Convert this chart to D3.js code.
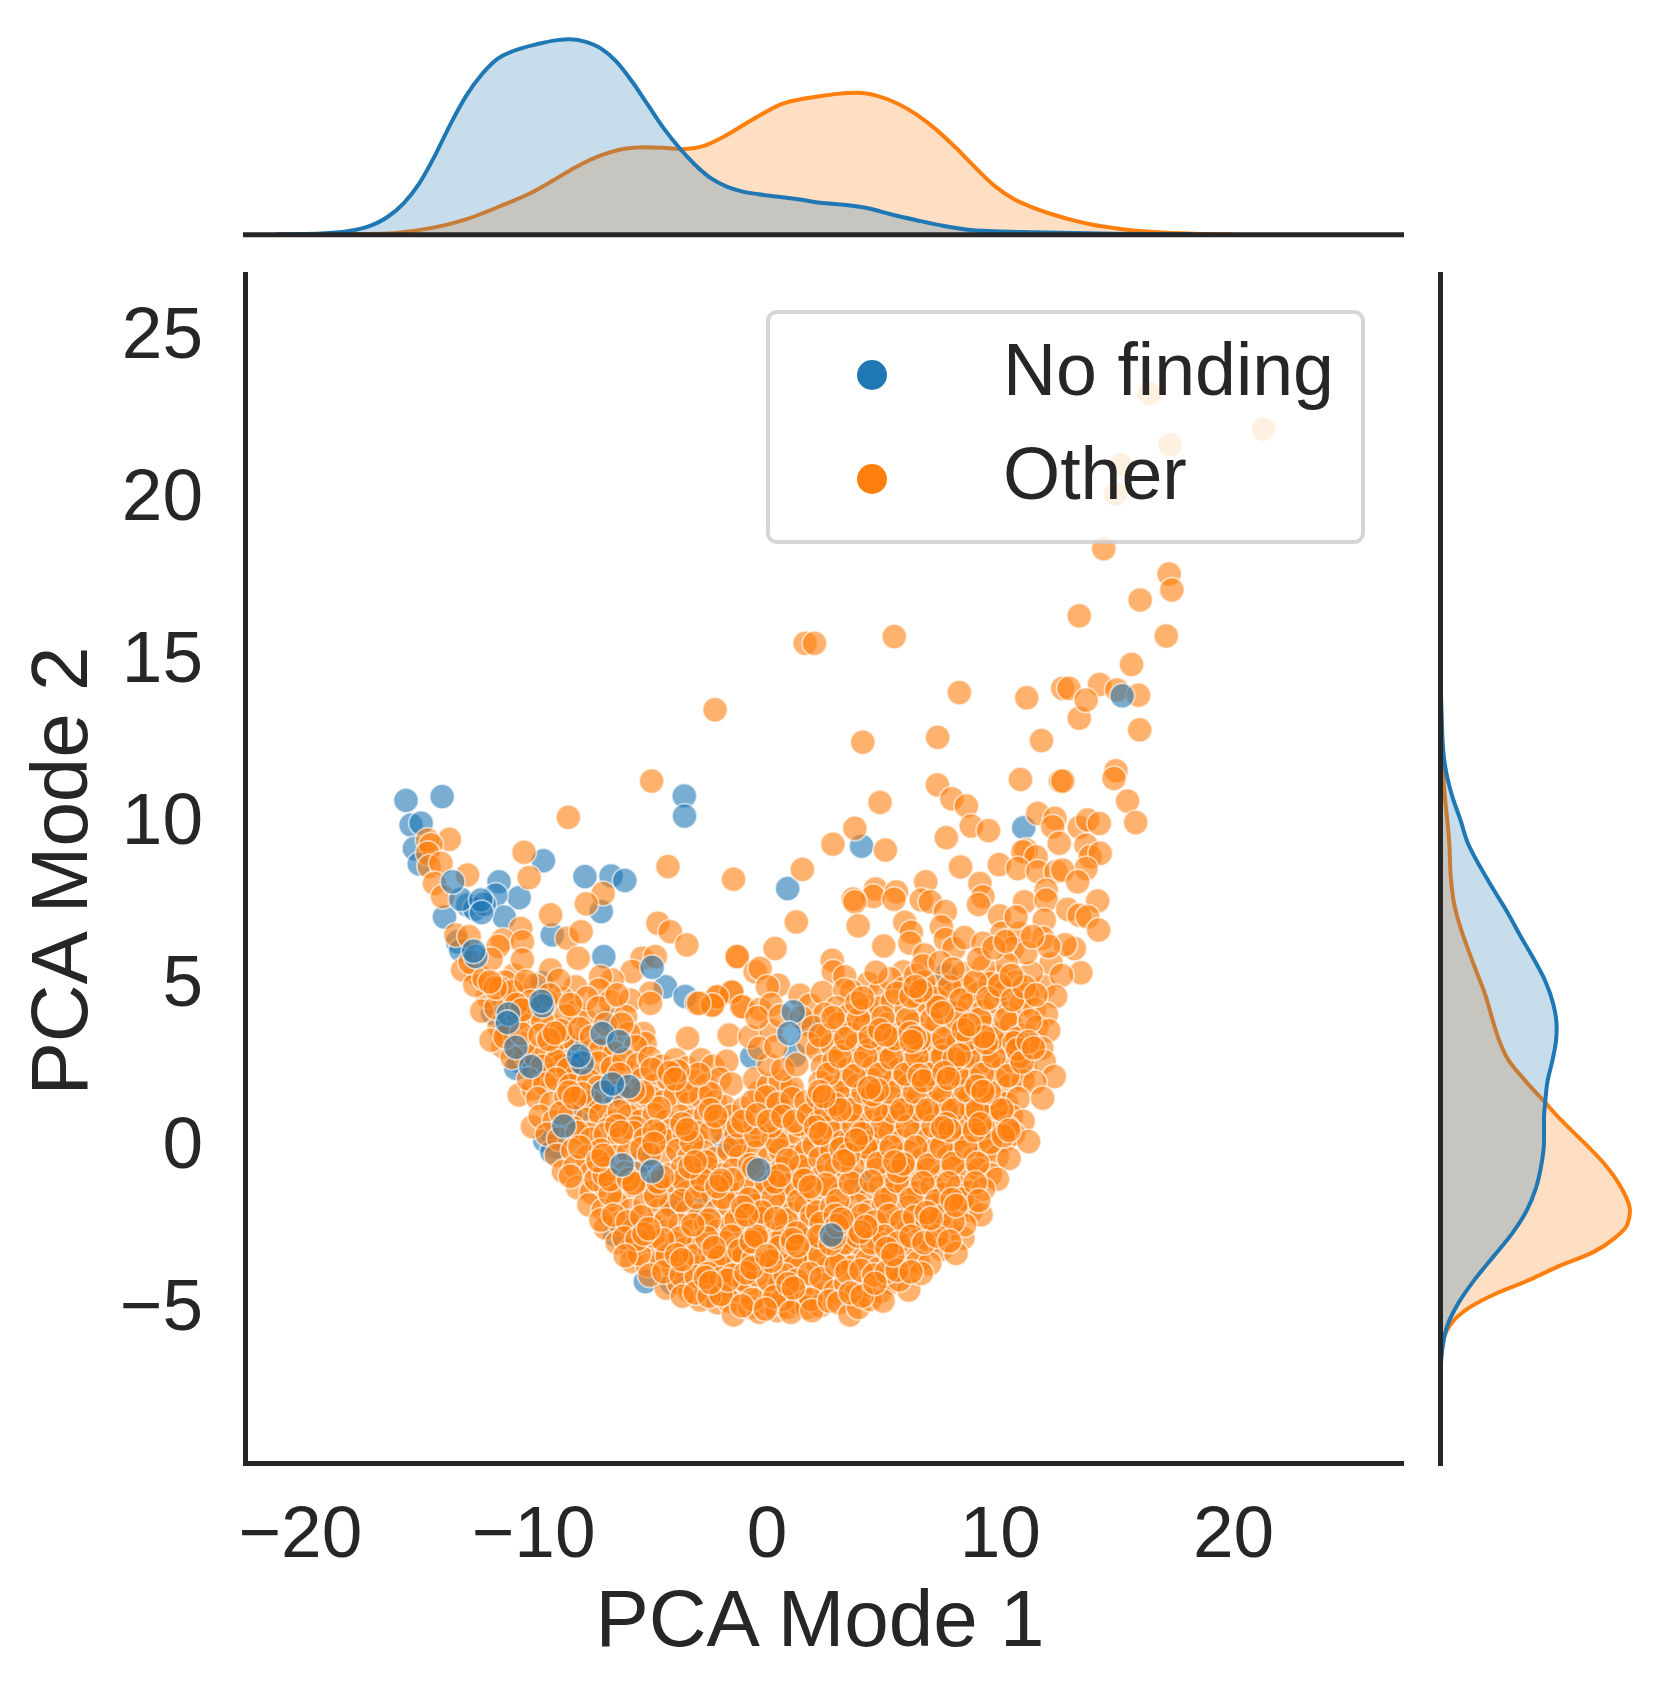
<!DOCTYPE html>
<html>
<head>
<meta charset="utf-8">
<script src="https://d3js.org/d3.v7.min.js"></script>
<style>
body { margin:0; background:#fff; }
svg { display:block; font-family:"Liberation Sans",Arial,sans-serif; }
.spine path { stroke:#262626; stroke-width:5; stroke-linecap:square; fill:none; }
.spine text { fill:#262626; font-size:73px; font-family:"Liberation Sans",Arial,sans-serif; }
.spine line { display:none; }
</style>
</head>
<body>
<div id="chart"></div>
<script>
const w = 1668;
const h = 1691;

const xTicks = [-20,-10,0,10,20];
const yTicks = [-5,0,5,10,15,20,25];
const legendNames = ["No finding","Other"];

// marginal density readings, x (or y) position and density x 1000
const topBlueX = [-21,-20,-19.1,-17.9,-17.08,-16.23,-15.55,-14.88,-14.2,-13.53,-12.85,-12.17,-11.5,-10.82,-9.81,-8.96,-8.46,-7.78,-7.1,-6.43,-5.75,-5.08,-4.4,-3.72,-3.05,-2.37,-1.7,-1.02,-.34,.67,1.52,2.21,3.06,4.41,5.25,6.44,7.62,8.63,9.82,11.5,14.9,18.3];
const topBlueD = [0,.1,.4,1.5,3.5,8.1,14.3,23.5,36.5,51.1,64.2,74.2,81.2,84.7,87.8,89.6,90,88.9,85.8,79.7,70.4,59.7,48.9,39.7,32,25.8,22,19.7,18.5,17.1,15.9,14.7,13.9,11.9,9.5,6.5,3.8,2.1,1.4,.9,.2,0];
const topOrangeX = [-19,-17.5,-16.23,-15.05,-13.87,-12.85,-11.5,-10.15,-9.13,-8.12,-7.1,-6.09,-5.25,-4.4,-3.56,-2.71,-1.87,-1.02,-.17,.67,1.52,2.21,3.06,3.9,4.75,5.59,6.44,7.28,8.13,8.97,9.82,10.66,11.51,12.35,13.2,14.04,14.89,15.73,16.58,18.3,20];
const topOrangeD = [0,.1,.4,1.7,4,7,12.6,18.8,24.9,31.3,36.4,39.5,40.2,39.9,39.3,40.7,44.8,50.2,55.6,60.2,62.4,63.6,64.8,65.3,63.9,60.5,55.2,48.3,39.8,30.6,22,15.9,12,8.9,6.3,4.3,2.9,1.8,1.1,.3,0];

const rightBlueY = [16,13.52,12.1,11.4,10.69,9.98,9.27,8.56,7.86,7.15,6.44,5.73,5.02,4.31,3.6,3.18,2.61,1.9,1.34,.77,.06,-.65,-1.36,-2.06,-2.77,-3.48,-4.19,-4.9,-5.61,-6.31,-7.02,-9];
const rightBlueD = [0,1,2.5,5,9.5,15.5,21,30,40,50.5,60,70,79,85,87.5,87,84.5,80.5,79,78,78,76,72,65,54,40,26,14,5.5,1.8,.5,0];
const rightOrangeY = [19,14,11.68,10.69,9.98,9.27,8.28,7.43,6.72,6.01,5.3,4.6,3.89,3.18,2.61,1.9,1.34,.77,.06,-.65,-1.36,-2.06,-2.49,-2.91,-3.34,-3.76,-4.19,-4.61,-5.04,-5.46,-5.89,-6.31,-7.02,-8];
const rightOrangeD = [0,.6,2,3.7,5.5,7,8,10.5,15,21,27.5,34,39,44.5,51,65,77.5,90,107.5,124,136,142.5,140.5,131,115,90,67.5,42.5,22.5,10,3.7,1.2,.2,0];

// blue points that sit under the orange ones
const noFindingUnder = [[-15.45,10.6],[-13.9,10.72],[-15.23,9.84],[-14.8,9.9],[-15.09,9.12],[-14.88,8.64],[-9.56,8.74],[-7.78,8.25],[-6.66,8.27],[-6.07,8.13],
[-11.46,8.09],[-10.6,7.6],[-11.6,7.68],[-13.8,7.0],[-12.81,7.37],[-11.24,7.0],[-7.08,7.17],[-9.18,6.45],[-6.97,5.78],[-3.52,10.74],[-3.51,10.12],
[-4.33,4.85],[-3.48,4.55],[-13.24,6.24],[-13.1,5.98],[-9.63,4.98],[-11.74,4.03],[-11.17,3.62],[-10.6,2.54],[-10.74,2.33],[-9.96,2.33],[-8.04,2.8],[-7.9,2.6],
[-6.83,3.83],[-6.97,1.61],[-6.54,1.97],[-8.04,1.25],[-7.8,1.1],[-9.18,.33],[-9.04,-.08],[-5.19,-4.25],[-4.05,-4.3],[-5.47,-2.55],[-6.5,-2.8],[-3.91,-1.83],[-2.77,-1.94],
[4.08,9.19],[.91,7.88],[11.03,9.76],[7.71,5.21],[1.8,3.67],[1.23,2.74],[-.63,2.69],[4.07,-1.16],[-1.84,-.03],[-4.9,-.1],[-5.3,-.5],[-12.5,7.25],[-12.1,7.4],[-8.1,2.95],[-8.15,2.6],[-8.3,2.45],[-6.75,1.8],[-6.3,1.6],[-6.6,1.55],[-9.5,.1],[-9.2,-.25]];

// blue points drawn last, on top of the orange ones
const noFindingOver = [[-13.1,7.55],[-13.45,8.09],[-12.24,7.53],[-12.21,7.14],[-12.46,5.78],[-12.55,5.95],[-9.6,4.26],[-9.65,4.4],[-11.06,4.01],[-11.1,3.75],[-10.74,2.98],[-10.1,2.39],[-7.04,3.41],[-6.33,3.16],
[-4.9,5.45],[-8.68,.55],[-6.19,-.65],[-4.9,-.85],[1.15,4.08],[.97,3.41],[-.34,-.8],[2.79,-2.81],[15.25,13.83],[-5.9,1.77],[-7.9,2.5],[-7,1.6],[-8.05,2.72],[-6.6,1.85]];

const otherPts = [[16.4,23.17],[21.3,22.06],[17.3,21.58],[15.2,20.96],[14.97,20.06],[14.46,18.37],[17.26,17.59],[17.38,17.1],[16.02,16.79],[13.41,16.3],[17.14,15.68],
[1.66,15.45],[2.06,15.45],[5.48,15.66],[8.27,13.93],[11.16,13.77],[12.7,14.06],[12.97,14.06],[14.28,14.18],[15.02,14.01],[15.65,14.8],[15.95,13.85],[13.41,13.14],[16,12.78],[11.79,12.45],[7.34,12.55],[4.13,12.4],
[-2.2,13.4],[-4.92,11.2],[-8.49,10.08],[-13.59,9.4],[-14.52,9.38],[-14.38,9.23],[-14.52,8.97],[-14.45,8.56],[-10.39,9],[-10.17,8.22],[-4.22,8.56],[-1.41,8.17],[-7,7.73],[-7.72,7.41],[-9.25,7.07],[-10.53,6.65],[-8.54,6.35],[-7.94,6.55],
[-4.65,6.81],[-4.12,6.55],[-3.41,6.14],[-8.07,5.73],[-1.27,5.78],[-12.81,8.3],[-13.95,8.66],[-14.23,8.04],[-13.88,7.63],[-13.31,6.45],[-12.74,6.4],[-11.31,6.29],[-10.46,6.24],[-11.5,6.1],[-12.46,5.27],[-13.02,5.37],[-10.82,5.21],[-10.46,5.68],[-9.25,5.37],
[-5.33,5.73],[-4.76,5.78],[-5.76,5.32],[-4.97,4.65],[-6.61,5.06],[-7.11,5.16],[-7.18,4.75],[-8.18,4.85],[-8.75,4.49],[-11.96,4.55],[-10.46,4.55],[-6.68,4.39],[-5.83,4.44],[-4.97,4.34],[-2.98,4.34],[-2.06,4.55],[-1.48,4.7],[-2.34,4.29],[-.99,4.24],
[-8.18,4.08],[-9.18,3.65],[-10.17,3.72],[-11.46,3.62],[-7.75,3.83],[-6.04,3.93],[-5.26,3.41],[-3.38,3.26],[-1.6,3.36],[-.7,3.31],[-5.2,3.1],[-8.68,2.1],[-11.3,3],[-10.32,2.75],[-9.46,3],[-8.9,2.8],[-8.33,3.26],[-7.47,2.9],
[-10.6,1.51],[-10.03,.53],
[13.7,13.7],[7.33,11.08],[7.95,10.65],[8.57,10.43],[8.78,9.81],[9.52,9.67],[7.71,9.45],[10.89,11.25],[12.6,11.2],[12.7,11.2],[14.98,11.52],[14.9,11.28],[15.48,10.58],[15.83,9.92],
[4.87,10.54],[3.79,9.74],[2.85,9.25],[5.1,9.07],[1.54,8.47],[1.28,6.85],[8.32,8.55],[9.98,8.62],[9.15,8.04],[9.28,7.63],[9.09,7.39],[6.83,8.09],[6.64,7.53],[7.03,7.47],[7.67,7.17],[4.68,7.87],[4.58,7.64],[5.57,7.78],[5.47,7.55],[3.72,7.56],[3.79,7.47],[3.93,6.73],[5.93,6.84],[6.21,6.53],[7.5,6.7],[5.03,6.11],
[9.99,7.04],[10.09,6.5],[7.67,6.31],[8.04,6.03],[8.49,6.37],[6.15,6.2],[6.78,5.83],[5.87,5.31],[8.42,5.26],[9.28,6.19],[.37,6.03],[-1.25,5.78],[-.48,5.31],[-.27,5.42],[2.82,5.67],[2.87,5.31],[3.36,5.16],[.51,4.9],[.04,4.85],[-1.48,4.68],[-2.12,4.54],[-2.31,4.28],
[1.44,4.59],[1.87,4.28],[2.4,4.67],[4.36,4.95],[4.86,4.7],[3.65,4.7],[3.36,4.75],[4.29,4.25],[4.08,4.13],[-1.05,4.23],[-.27,4.15],[-2.9,4.34],
[11.63,10.2],[12.37,10.05],[12.27,9.79],[13.41,9.77],[13.77,10],[14.27,9.89],[12.55,9.28],[11.13,9.07],[10.99,9.02],[11.56,8.86],[13.7,9.22],[13.88,8.86],[14.31,8.97],[13.7,8.5],[10.77,8.5],[11.63,8.4],[12.41,8.4],[12.7,8.45],[13.34,8.09],[11.99,7.83],[11.06,7.47],[11.99,7.53],[14.2,7.5],[12.91,7.24],[13.41,7.06],[13.77,7.01],[14.24,6.6],[13.2,6.03],[13.48,5.28],
[11.91,6.91],[11.85,6.35],[12.8,6.15],[10.85,6.5],[10.55,6.03],[12.2,5.57],[11.91,4.85],[11.35,5.28],[9.95,5.15],[11.13,5.9],[10.3,5.55],[9.3,5.45],[12.65,5.2],[12.1,6.1],[11.4,6.4],[10.7,7]
];

// orange points of the crowded part, left arm
const otherLeft = [[-12.5,4.9],[-11.2,5],[-9.9,4.9],[-8.9,5.05],[-7.7,4.5],[-9.4,4.4],[-11,4.4],[-12.2,4.1],[-10.7,4],[-9.9,4.15],[-8.6,3.95],[-7.2,4.2],[-6.4,4.6],
[-12.7,5.6],[-12.1,5.1],[-11.8,5.7],[-11.4,4.8],[-11.6,4.2],[-10.9,4.7],[-10.3,5.02],[-10.6,3.9],[-10.1,4.4],[-9.6,3.8],[-9.3,4.6],[-8.4,4.3],[-8.7,3.3],[-9.2,2.9],[-9.9,2.7],[-10.4,3.1],[-10.9,2.67],[-11.1,3.4],
[-11.8,3.2],[-11.2,3.3],[-10.5,3.4],[-9.7,3.35],[-8.8,3.5],[-8,3.55],[-7.5,3.3],[-6.7,3.15],[-5.9,3.4],[-10,1.7],[-9.4,2.1],[-8.8,2.42],[-8.2,2.03],[-7.8,2.3],[-7.1,2.9],[-6.5,2.8],[-6.9,3.7],[-6.2,3.7],[-5.6,3],[-5.9,2.2],[-6.8,2.15],[-7.4,1.3],[-7.1,1.15],
[-9.6,2.4],[-9,2.55],[-8.5,2.3],[-7.2,2.5],[-6.6,2.35],[-6.1,2.6],[-5.5,2.45],[-5,2.65],[-4.5,2.4],[-3.9,2.6],[-3.4,2.35],[-2.8,2.6],[-2.3,2.4],[-1.7,2.55],
[-10.2,2],[-9.5,1.85],[-9,2],[-8.4,1.8],[-7.6,1.95],[-7.2,1.75],[-5.3,2],[-4.8,1.8],[-4.2,2],[-3.7,1.75],[-3.1,1.95],[-2.6,1.8],[-2,2],[-1.5,1.85],
[-9.8,1.4],[-9.2,1.25],[-8.6,1.45],[-7.5,1.3],[-6.1,1.4],[-5.5,1.25],[-5,1.45],[-4.4,1.3],[-3.9,1.5],[-3.3,1.25],[-2.8,1.45],[-2.2,1.3],[-1.8,1.15],
[-9.7,.85],[-9.1,.7],[-8.4,.9],[-7.7,.75],[-7.1,.9],[-6.5,.7],[-5.9,.85],[-5.4,.7],[-4.8,.9],[-4.3,.7],[-3.7,.85],[-3.2,.7],[-2.6,.9],[-2.1,.7],[-1.5,.85],
[-4.6,1.1],[-5.3,1.6],[-6.3,1],[-3.4,1.6],[-2.4,1.55],[-1.9,.4],[-4.1,.42],[-3,.35],[-5.6,.5],[-6.8,.45],[-7.6,.3],[-8.3,.5],[-8.8,.95],[-7.9,1.55],[-2.9,2.15],[-3.8,2.25],[-4.9,2.3],[-5.7,1.65],[-6.3,2.15]];

// orange points of the crowded part, middle
const otherMid = [[-9.4,.3],[-8.9,.15],[-8.1,.35],[-7.5,.15],[-6.9,.3],[-6.3,.15],[-5.7,.35],[-5.2,.15],[-4.6,.3],[-4.1,.1],[-3.5,.3],[-3,.15],[-2.4,.35],[-1.3,.3],[-.8,.1],[-.2,.3],[.3,.15],[.9,.35],[1.4,.1],[2,.3],
[-9,-.35],[-8.3,-.2],[-7.7,-.4],[-7.1,-.2],[-6.5,-.4],[-5.9,-.25],[-4.4,-.4],[-3.8,-.2],[-3.3,-.4],[-2.7,-.25],[-2.2,-.45],[-1.6,-.2],[-1.1,-.4],[-.5,-.25],[.1,-.45],[.6,-.2],[1.2,-.4],[1.7,-.25],
[-8.7,-.85],[-8.2,-.7],[-7.5,-.9],[-6.9,-.75],[-5.6,-.9],[-5,-1.4],[-4.2,-.95],[-3.6,-.75],[-3,-.95],[-2.5,-.75],[-1.9,-.95],[-1.4,-.8],[-.8,-1],[.2,-.95],[.7,-.75],[1.3,-.95],[1.8,-.8],
[-8.1,-1.35],[-7.5,-1.5],[-6.9,-1.3],[-6.3,-1.5],[-5.7,-1.3],[-4.5,-1.5],[-3.9,-1.3],[-3.4,-1.5],[-2.8,-1.3],[-2.3,-1.55],[-1.7,-1.35],[-1.2,-1.55],[-.6,-1.35],[-.1,-1.55],[.5,-1.3],[1,-1.55],[1.6,-1.35],
[-7.61,-1.88],[-7,-2.05],[-6.4,-1.85],[-5.8,-2.05],[-5.2,-1.85],[-4.6,-2.05],[-4.1,-1.9],[-3.4,-2.1],[-2.9,-2.2],[-2.2,-2.1],[-1.6,-1.9],[-1.1,-2.1],[-.5,-1.9],[0,-2.1],[.6,-1.9],[1.1,-2.15],[1.7,-1.9],
[-6.9,-2.6],[-6.3,-2.45],[-5.7,-2.65],[-4.9,-2.5],[-4.3,-2.7],[-3.7,-2.5],[-3.2,-2.7],[-2.6,-2.5],[-2.1,-2.7],[-1.5,-2.5],[-1,-2.7],[-.4,-2.5],[.1,-2.75],[.7,-2.5],[1.2,-2.7],[1.8,-2.5],
[-6.4,-3.05],[-5.8,-3.25],[-5.2,-3.05],[-4.6,-3.25],[-4,-3.05],[-3.5,-3.25],[-2.9,-3.05],[-2.4,-3.3],[-1.8,-3.05],[-1.3,-3.25],[-.7,-3.05],[-.2,-3.3],[.4,-3.05],[.9,-3.3],[1.5,-3.05],[2,-3.25],
[-5.76,-3.63],[-5.1,-3.75],[-4.5,-3.6],[-4,-3.8],[-3.4,-3.6],[-2.9,-3.8],[-2.3,-3.6],[-1.8,-3.85],[-1.2,-3.6],[-.7,-3.8],[-.1,-3.6],[.4,-3.85],[1,-3.6],[1.5,-3.8],[2.1,-3.6],[2.6,-3.85],
[-4.3,-4.45],[-3.75,-4.3],[-3.3,-4.55],[-2.7,-4.25],[-2.2,-4.5],[-1.75,-4.4],[-1.2,-4.6],[-.8,-4.35],[-.35,-4.7],[.2,-4.5],[.6,-4.3],[1.1,-4.65],[1.55,-4.4],[2.05,-4.6],[2.5,-4.35],
[-2.84,-4.82],[-2.1,-4.9],[-1.6,-4.85],[-1.41,-5.28],[-.72,-5.05],[-.3,-5.2],[.1,-4.95],[.45,-5.15],[.9,-5.05],[1.3,-4.9],[1.75,-5.05],[2.3,-5],
[-8.4,-1],[-8,-.1],[-7.3,-1.1],[-6.7,-1.55],[-6.1,-.9],[-5.35,-.15],[-4.8,.4],[-3.55,-1.1],[-3.2,.05],[-2.6,-.55],[-2,-1.2],[-1.35,-.05],[-.7,-.65],[0,-1.2],[.45,.05],[.95,-1.25],[1.45,-.7],[2.05,-.05],
[-7.1,-2.35],[-6.55,-2.2],[-5.95,-2.4],[-5.35,-2.25],[-4.75,-1.6],[-4.3,-2.35],[-3.65,-1.75],[-3,-1.65],[-2.45,-2.35],[-1.85,-1.65],[-1.3,-2.35],[-.75,-1.7],[-.25,-2.3],[.3,-1.65],[.85,-2.35],[1.4,-1.75],[1.95,-2.2],
[-6.1,-2.9],[-5.45,-3.4],[-4.85,-2.85],[-4.25,-3.45],[-3.7,-2.9],[-3.1,-3.45],[-2.55,-2.9],[-2,-3.5],[-1.5,-2.85],[-.95,-3.45],[-.4,-2.95],[.15,-3.55],[.7,-2.9],[1.25,-3.5],[1.75,-2.95],[2.3,-3.45],
[-5,-4.05],[-4.4,-3.95],[-3.65,-4.05],[-3,-4.1],[-2.5,-4],[-1.95,-4.15],[-1.45,-4.05],[-.95,-4.2],[-.4,-4.05],[.1,-4.2],[.8,-4.05],[1.3,-4.2],[1.85,-4],[2.35,-4.15],
[-3.6,-4.7],[-3.05,-4.6],[-2.45,-4.7],[-1.95,-4.65],[-.6,-4.8],[.7,-4.8],[1.9,-4.8],[.35,-4.72],[-1.05,-5],[1.05,-5.2],[1.95,-5.15],[-.05,-5.1],
[-1.15,-3.3],[-.55,-3.55],[.55,-3.2],[1.1,-3.05],[-1.65,-4.2],[-2.25,-3.2],[-3.15,-2.5],[-4.45,-2.95],[-5.55,-2.95],[-6.05,-3.45],[-2.75,-1.1],[-1.45,-1.1],[-.55,-.75],[.9,-.5],[-.2,-2.1],[.4,-2.3],[1.3,-2.75],[-1.2,.55],[-.5,.65],[.2,.55],[.65,1],[1.4,.6],[1.85,1.05],[-.95,1.1],[-.3,1.6],[.35,1.15],[.95,1.6],[-.45,.25],
[-.5,2],[.1,1.8],[.6,1.95],[1.1,1.75],[-.6,1.3],[0,1.45],[.5,1.25],[1.1,1.4],[1.7,1.3],[-1,.7],[-.4,.9],[.1,.7],[.7,.85],[1.2,.7],[1.8,.9],[.1,2.45],[.7,2.3],[1.3,2.45],[.2,3.5],[-.3,2.95],[.4,3]];

// orange points of the crowded part, right side
const otherRight = [[5.3,5.1],[5.9,4.8],[6.4,5.2],[6.9,4.7],[7.4,4.95],[8,4.6],[8.5,4.85],[9.1,4.65],[9.6,4.95],[10.2,4.7],[10.7,5],[11.2,4.6],[12.4,4.55],
[4.9,4.2],[5.4,4.4],[6,4.15],[6.5,4.45],[7,4.1],[7.6,4.35],[8.2,4.05],[8.7,4.3],[9.3,4.1],[9.8,4.4],[10.4,4.05],[10.9,4.3],[11.5,4.15],[12,4],[3,4.2],[2.5,4],[3.5,3.95],[.2,4.3],[-.4,3.9],[.6,3.95],[1.5,3.9],
[2,3.6],[2.6,3.35],[3.1,3.7],[3.6,3.4],[4.2,3.65],[4.7,3.3],[5.2,3.7],[5.7,3.4],[6.3,3.7],[6.8,3.35],[7.3,3.7],[7.8,3.4],[8.4,3.65],[8.9,3.3],[9.4,3.6],[10,3.4],[10.5,3.7],[11,3.35],[11.6,3.6],[12.1,3.5],
[1.8,3.1],[2.2,2.9],[2.8,3.05],[3.3,2.85],[3.9,3.1],[4.4,2.9],[5,3.05],[5.5,2.8],[6,3.1],[6.6,2.85],[7.1,3.05],[7.6,2.9],[8.2,3.1],[8.7,2.85],[9.2,3.05],[9.8,2.85],[10.3,3.1],[10.8,2.9],[11.4,3.05],[11.8,2.95],
[2.4,2.4],[2.9,2.55],[3.5,2.3],[4,2.5],[4.6,2.35],[5.1,2.55],[5.7,2.3],[6.2,2.5],[6.8,2.35],[7.3,2.55],[7.9,2.3],[8.4,2.5],[9,2.35],[9.5,2.55],[10.1,2.3],[10.6,2.5],[11.1,2.35],[11.91,2.54],[12.34,2.08],
[2.3,1.9],[2.8,1.75],[3.4,1.95],[3.9,1.8],[4.5,2],[5,1.75],[5.5,1.95],[6.1,1.8],[6.6,2],[7.2,1.75],[7.7,1.95],[8.3,1.8],[8.8,2],[9.3,1.75],[9.9,1.95],[10.4,1.8],[11,1.95],[11.5,1.9],
[2.2,1.45],[2.7,1.25],[3.3,1.4],[3.8,1.25],[4.4,1.45],[4.9,1.25],[5.4,1.4],[6,1.25],[6.5,1.45],[7.1,1.25],[7.6,1.4],[8.2,1.25],[8.7,1.45],[9.2,1.25],[9.8,1.4],[10.3,1.25],[10.8,1.4],[11.84,1.41],
[2.3,.7],[2.9,.85],[3.4,.7],[4,.9],[4.5,.7],[5.1,.85],[5.6,.7],[6.2,.9],[6.7,.7],[7.3,.85],[7.8,.7],[8.4,.9],[8.9,.7],[9.5,.85],[10,.7],[10.5,.85],[11,.7],
[2.5,.15],[3.1,.35],[3.6,.1],[4.2,.3],[4.7,.15],[5.3,.35],[5.8,.1],[6.4,.3],[6.9,.15],[7.5,.35],[8,.1],[8.6,.3],[9.1,.15],[9.7,.35],[10.2,.1],[10.6,.3],[11.24,.07],
[2.3,-.45],[2.8,-.2],[3.4,-.4],[3.9,-.25],[4.5,-.45],[5,-.2],[5.6,-.4],[6.1,-.25],[6.7,-.45],[7.2,-.2],[7.8,-.4],[8.3,-.25],[8.9,-.45],[9.4,-.2],[9.9,-.4],[10.4,-.45],
[2.4,-1],[3,-.75],[3.5,-.95],[4.7,-.8],[5.3,-1],[5.8,-.75],[6.4,-.95],[6.9,-.8],[7.5,-1],[8,-.75],[8.6,-.95],[9.1,-.8],[9.6,-.95],[9.9,-1.09],
[2.1,-1.5],[2.7,-1.3],[3.2,-1.55],[3.8,-1.35],[4.3,-1.55],[4.9,-1.3],[5.4,-1.55],[6,-1.35],[6.5,-1.5],[7.1,-1.3],[7.6,-1.55],[8.2,-1.35],[8.7,-1.5],[9.3,-1.4],
[2.2,-2.1],[2.8,-1.95],[3.3,-2.15],[3.9,-1.9],[4.4,-2.1],[5,-1.9],[5.5,-2.15],[6.1,-1.95],[6.6,-2.1],[7.2,-1.9],[7.7,-2.15],[8.3,-1.95],[8.8,-2.05],[9.2,-2.19],
[3.4,-2.7],[3.9,-2.5],[4.5,-2.7],[5,-2.5],[5.6,-2.75],[6.1,-2.5],[6.7,-2.7],[7.2,-2.5],[7.8,-2.7],[8.42,-2.91],[8.5,-2.5],
[3.1,-3.3],[3.7,-3.05],[4.2,-3.25],[4.8,-3.05],[5.3,-3.3],[5.9,-3.05],[6.4,-3.25],[7,-3.05],[7.5,-3.25],[8.13,-3.38],
[3.2,-3.6],[3.7,-3.8],[4.3,-3.6],[4.8,-3.85],[5.4,-3.6],[5.9,-3.8],[6.5,-3.65],[7,-3.7],
[2.95,-4.55],[3.4,-4.3],[3.85,-4.6],[4.3,-4.35],[4.9,-4.55],[5.3,-4.3],[6.1,-4.51],[5.7,-4.2],[6.64,-4],[2.7,-4.85],[3.1,-4.9],[3.58,-5.28],[3.95,-5.05],[4.45,-4.8],[5,-4.85],
[2.65,.5],[3.25,.05],[3.75,.55],[4.35,.05],[4.95,.5],[5.45,1],[6.05,.55],[6.6,1.05],[7.15,.55],[7.7,1.05],[8.25,.5],[8.8,1.05],[9.3,.5],[9.85,1.1],[10.35,.5],[2.55,1.05],[3.05,1.6],[3.6,1.05],[4.15,1.6],[4.7,1.05],[5.25,1.6],[5.8,1.05],[6.35,1.6],[6.9,1.05],[7.45,1.65],[8,1.05],[8.55,1.65],[9.05,1.05],[9.55,1.6],[10.1,1.05],
[2.65,2.15],[3.15,2.7],[3.75,2.1],[4.25,2.7],[4.85,2.15],[5.35,2.65],[5.95,2.15],[6.45,2.7],[7.05,2.15],[7.55,2.7],[8.15,2.15],[8.65,2.7],[9.25,2.15],[9.75,2.7],[10.35,2.1],[10.85,2.7],[2.3,3.35],[2.85,3.9],[3.4,3.25],[3.95,3.85],[4.45,3.3],[5,3.9],[5.5,3.25],[6.05,3.85],[6.55,3.25],[7.1,3.85],[7.6,3.25],[8.15,3.85],[8.65,3.25],[9.15,3.85],[9.7,3.25],[10.25,3.85],[10.75,3.25],[11.3,3.8],
[5.6,4.65],[6.2,4.55],[6.75,5],[7.25,4.5],[7.85,4.85],[8.35,4.45],[8.95,5],[9.5,4.5],[10,4.9],[10.55,4.45],[11.05,4.85],[11.55,4.6],[4.7,5.3],[6.7,5.5],[7.45,5.6],[8,5.4],[9.1,5.7],[9.75,6.05],[10.25,6.25],[10.5,5.2],
[2.65,-.65],[3.2,-.15],[3.7,-.7],[4.25,-.1],[4.8,-.6],[5.35,-.1],[5.85,-.6],[6.4,-.1],[6.95,-.65],[7.5,-.1],[8,-.6],[8.55,-.1],[9.05,-.6],[9.6,.05],[2.55,-1.25],[3.05,-1.75],[3.6,-1.2],[4.5,-1.15],[5.1,-1.7],[5.6,-1.15],[6.2,-1.7],[6.7,-1.2],[7.3,-1.75],[7.8,-1.2],[8.4,-1.7],[8.95,-1.2],[9.1,-1.75],
[2.35,-2.45],[2.95,-2.2],[3.5,-2.4],[4.1,-2.2],[4.65,-2.4],[5.25,-2.2],[5.8,-2.4],[6.35,-2.25],[6.9,-2.4],[7.45,-2.25],[8,-2.4],[2.25,-2.85],[3.35,-3.05],[3.9,-2.85],[4.5,-3.05],[5.05,-2.85],[5.65,-3.05],[6.2,-2.85],[6.75,-3.05],[7.3,-2.85],[7.85,-3],[3,-3.75],[3.45,-3.95],[4.05,-3.9],[4.6,-4.05],[5.15,-3.95],[5.6,-3.9],[6.2,-3.95],[3.6,-4.6],[4.1,-4.7],[4.65,-4.3]];

// stacks of nearly coincident orange points, drawn over the rest
const otherStacks = [[6.15,3.42],[6.35,3.28],[6.22,3.17],[8.05,2.62],[8.27,2.75],[4.55,1.52],[4.76,1.66],[4.41,1.73],[9.42,3.12],[9.31,3.31],[7.72,.62],[7.86,.42],[7.55,.5],[2.95,1.22],[3.16,1.05],[5.65,-.85],[5.86,-.62],[5.5,-.55],[7.95,-1.72],[8.12,-1.9],[3.52,-.33],[3.32,-.52],[4.02,-2.72],[4.26,-2.55],[6.55,2.12],[6.73,1.95],[10.62,3.12],[10.76,2.92],[10.96,2.52],[8.92,.42],[9.16,.62],
[1.12,-2.95],[1.33,-3.15],[.35,-1.18],[.56,-.98],[-.65,-3.02],[-.44,-2.85],[-2.12,-1.32],[-1.94,-1.12],[-3.28,-.72],[-3.05,-.55],[-4.65,-1.18],[-4.46,-1.02],[-6.95,-.95],[-6.7,-1.1],[-5.25,-2.78],[-5.05,-2.62],[-3.85,-3.42],[-3.62,-3.58],[-2.62,-4.12],[-2.4,-4.28],[-.88,-3.98],[-.62,-3.82],[.92,-4.32],[1.16,-4.45],[2.75,-3.08],[2.92,-2.88],
[4.86,3.52],[5.12,3.36],[7.36,4.22],[7.54,4.05],[9.02,1.78],[9.28,1.62],[5.16,-3.22],[5.42,-3.42],[6.86,-2.12],[7.05,-2.3],[7.62,2.2],[7.8,2.02],[3.88,4.35],[4.12,4.5],[11.22,3.15],[11.45,2.96],[10.15,.25],[10.4,.42],[2.28,1.62],[2.46,1.46],
[-8.46,1.6],[-8.22,1.42],[-9.32,3.22],[-9.08,3.42],[-10.72,4.3],[-10.48,4.14],[-11.62,4.82],[-11.85,5],[-6.42,.56],[-6.22,.36],[-7.22,-.52],[-7,-.35],[-5.02,-.32],[-4.82,.02],[-3.62,.62],[-3.4,.44],[-2.4,1.05],[-2.18,.86],[-4.15,2.2],[-3.92,2],[-1.02,-1.95],[-.85,-2.2],[.2,-3.62],[.02,-3.45],[2.1,.52],[2.32,.32],[1.62,-1.12],[1.88,-1.32],[3.02,-2.52],[3.22,-2.32],[8.45,3.52],[8.7,3.68],[6.62,4.72],[6.38,4.86],[4.08,.32],[3.85,.12],[-5.9,-1.1],[-5.68,-1.22]];

var svg = d3.select("#chart")
            .append("svg")
            .attr("width",w)
            .attr("height",h);

var x = d3.scaleLinear().domain([-22.35,27.2]).range([245,1401]);
var y = d3.scaleLinear().domain([-9.85,26.85]).range([1463,274]);
var topD = d3.scaleLinear().domain([0,100]).range([234.3,17.6]);
var rightD = d3.scaleLinear().domain([0,150]).range([1440,1640]);

const blue = "#1f77b4";
const orange = "#ff7f0e";

// top marginal
function topKde(xs,ds,color) {
  var pts = xs.map((d,i)=>[d,ds[i]]);
  svg.append("path").datum(pts)
     .attr("fill",color).attr("fill-opacity",0.25)
     .attr("d",d3.area().curve(d3.curveMonotoneX).x(d=>x(d[0])).y0(topD(0)).y1(d=>topD(d[1])));
  svg.append("path").datum(pts)
     .attr("fill","none").attr("stroke",color).attr("stroke-width",4)
     .attr("d",d3.line().curve(d3.curveMonotoneX).x(d=>x(d[0])).y(d=>topD(d[1])));
}
topKde(topOrangeX,topOrangeD,orange);
topKde(topBlueX,topBlueD,blue);

// right marginal
function rightKde(ys,ds,color) {
  var pts = ys.map((d,i)=>[d,ds[i]]);
  svg.append("path").datum(pts)
     .attr("fill",color).attr("fill-opacity",0.25)
     .attr("d",d3.area().curve(d3.curveMonotoneY).y(d=>y(d[0])).x0(rightD(0)).x1(d=>rightD(d[1])));
  svg.append("path").datum(pts)
     .attr("fill","none").attr("stroke",color).attr("stroke-width",4)
     .attr("d",d3.line().curve(d3.curveMonotoneY).y(d=>y(d[0])).x(d=>rightD(d[1])));
}
rightKde(rightOrangeY,rightOrangeD,orange);
rightKde(rightBlueY,rightBlueD,blue);

// scatter
function dots(data,color) {
  svg.append("g").selectAll("circle")
     .data(data)
     .enter()
     .append("circle")
     .attr("cx",d=>x(d[0]))
     .attr("cy",d=>y(d[1]))
     .attr("r",12.4)
     .attr("fill",color)
     .attr("fill-opacity",0.6)
     .attr("stroke","#fff")
     .attr("stroke-opacity",0.6)
     .attr("stroke-width",1.8);
}
dots(noFindingUnder,blue);
dots(otherPts,orange);
dots(otherLeft,orange);
dots(otherMid,orange);
dots(otherRight,orange);
dots(otherStacks,orange);
dots(noFindingOver,blue);

// axes
svg.append("g").attr("class","spine")
   .attr("transform","translate(0,1463)")
   .call(d3.axisBottom(x).tickValues(xTicks).tickSize(0).tickPadding(42));
svg.append("g").attr("class","spine")
   .attr("transform","translate(245,0)")
   .call(d3.axisLeft(y).tickValues(yTicks).tickSize(0).tickPadding(42));
svg.append("g").attr("class","spine")
   .attr("transform","translate(0,"+topD(0)+")")
   .call(d3.axisBottom(x).tickValues([]).tickSize(0));
svg.append("g").attr("class","spine")
   .attr("transform","translate("+rightD(0)+",0)")
   .call(d3.axisLeft(y).tickValues([]).tickSize(0));

svg.append("text")
   .attr("x",820).attr("y",1646)
   .attr("text-anchor","middle")
   .attr("fill","#262626")
   .style("font-size","80px")
   .text("PCA Mode 1");
svg.append("text")
   .attr("transform","translate(87,871) rotate(-90)")
   .attr("text-anchor","middle")
   .attr("fill","#262626")
   .style("font-size","80px")
   .text("PCA Mode 2");

// legend
var legend = svg.append("g");
legend.append("rect")
      .attr("x",768).attr("y",312)
      .attr("width",595).attr("height",230)
      .attr("rx",9)
      .attr("fill","#fff").attr("fill-opacity",0.8)
      .attr("stroke","#ccc").attr("stroke-opacity",0.8)
      .attr("stroke-width",4);
legend.selectAll("circle")
      .data(legendNames)
      .enter()
      .append("circle")
      .attr("cx",872)
      .attr("cy",(d,i)=>375+i*104)
      .attr("r",15)
      .attr("fill",(d,i)=>i==0?blue:orange);
legend.selectAll("text")
      .data(legendNames)
      .enter()
      .append("text")
      .attr("x",1003)
      .attr("y",(d,i)=>395+i*104)
      .attr("fill","#262626")
      .style("font-size","73.5px")
      .text(d=>d);
</script>
</body>
</html>
